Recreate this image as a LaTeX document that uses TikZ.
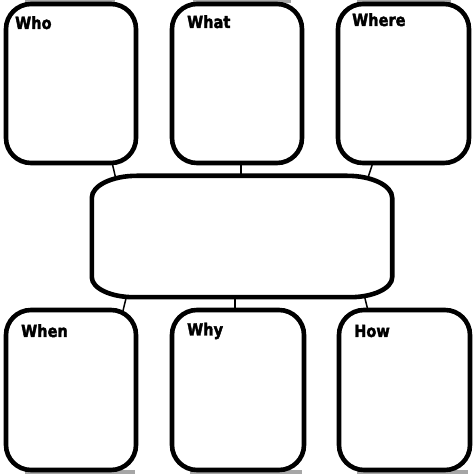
\documentclass[tikz,border=0pt]{standalone}
\usepackage{fontspec}
\setmainfont{DejaVu Sans}
\newfontfamily\lblfont{DejaVu Sans Bold}[FakeBold=2.5]
\usetikzlibrary{backgrounds}
\begin{document}
\begin{tikzpicture}[x=1pt,y=1pt,
  box/.style={draw=black, fill=white, line width=4.6pt, rounded corners=25pt, inner sep=0pt},
  conn/.style={draw=black, line width=1.5pt},
  lbl/.style={anchor=base west, inner sep=0pt, transform shape, xscale=0.97, yscale=1.12, font=\lblfont\fontsize{15}{17}\selectfont},
  shade/.style={fill=black!35, draw=none}]
\useasboundingbox (0,0) rectangle (474,474);
% boxes
\node[box, minimum width=130pt, minimum height=159pt] (who)   at (71,390.5) {};
\node[box, minimum width=130pt, minimum height=159pt] (what)  at (237,390.5) {};
\node[box, minimum width=131pt, minimum height=159pt] (where) at (403.5,390.5) {};
\node[box, minimum width=130pt, minimum height=160pt] (when)  at (71,84) {};
\node[box, minimum width=132pt, minimum height=160pt] (why)   at (238,84) {};
\node[box, minimum width=131pt, minimum height=160pt] (how)   at (404.5,84) {};
% centre
\node[draw=none, minimum width=300pt, minimum height=121pt, inner sep=0pt] (c) at (242,237.5) {};
\draw[line width=4.6pt, fill=white]
  ([xshift=45pt]c.north west) -- ([xshift=-45pt]c.north east)
  arc[start angle=90, end angle=0, x radius=45pt, y radius=22pt]
  -- ([yshift=20pt]c.south east)
  arc[start angle=0, end angle=-90, x radius=42pt, y radius=20pt]
  -- ([xshift=42pt]c.south west)
  arc[start angle=270, end angle=180, x radius=42pt, y radius=20pt]
  -- ([yshift=-22pt]c.north west)
  arc[start angle=180, end angle=90, x radius=45pt, y radius=22pt]
  -- cycle;
% labels
\node[lbl] (tWho)   at (15,445)   {Who};
\node[lbl] (tWhat)  at (187,446)  {What};
\node[lbl] (tWhere) at (352,448)  {Where};
\node[lbl] (tWhen)  at (21,137)   {When};
\node[lbl] (tWhy)   at (187,138.5){Why};
\node[lbl] (tHow)   at (354,137)  {How};
\begin{scope}[on background layer]
  \fill[white] (0,0) rectangle (474,474);
  % shadows
  \path[shade] (25,471) rectangle (115,474);
  \path[shade] (193,471) rectangle (291,474);
  \path[shade] (357,471) rectangle (451,474);
  \path[shade] (25,0) rectangle (135,3.5);
  \path[shade] (190,0) rectangle (302,3.5);
  \path[shade] (357,0) rectangle (468,3.5);
  % connectors
  \draw[conn] ([xshift=41pt,yshift=3pt]who.south) -- ([xshift=-125pt,yshift=-8pt]c.north);
  \draw[conn] ([xshift=4pt,yshift=3pt]what.south) -- ([xshift=-1pt,yshift=-4pt]c.north);
  \draw[conn] ([xshift=-30.5pt,yshift=3pt]where.south) -- ([xshift=124pt,yshift=-8pt]c.north);
  \draw[conn] ([xshift=52pt,yshift=-3pt]when.north) -- ([xshift=-114pt,yshift=7pt]c.south);
  \draw[conn] ([xshift=-3pt,yshift=-3pt]why.north) -- ([xshift=-7pt,yshift=4pt]c.south);
  \draw[conn] ([xshift=-36.5pt,yshift=-3pt]how.north) -- ([xshift=121pt,yshift=7pt]c.south);
\end{scope}
\end{tikzpicture}
\end{document}
